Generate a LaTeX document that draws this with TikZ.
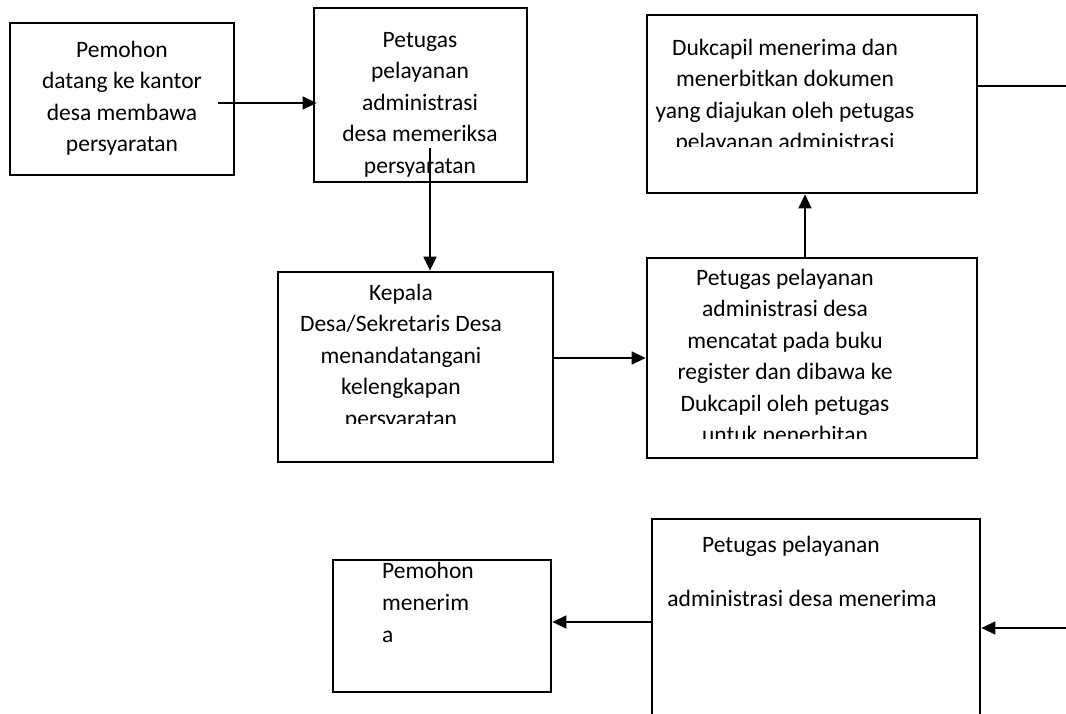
\documentclass[tikz,border=0pt]{standalone}
\usepackage{fontspec}
\setmainfont{Carlito}
\usetikzlibrary{arrows.meta}
\begin{document}
\begin{tikzpicture}[x=1pt,y=-1pt,
  box/.style={draw, line width=2.8pt, inner sep=0pt},
  txt/.style={inner sep=0pt, anchor=north, align=center, font=\fontsize{23.5}{31.5}\selectfont},
  arr/.style={line width=1.5pt, -{Triangle[length=14pt,width=13pt]}},
  ln/.style={line width=1.5pt}]
\clip (0,0) rectangle (1066,714);
\fill[white] (0,0) rectangle (1066,714);
% boxes
\node[box, minimum width=224pt, minimum height=152pt] (b1) at (122,99) {};
\node[box, minimum width=213pt, minimum height=174pt] (b2) at (420.5,95) {};
\node[box, minimum width=275pt, minimum height=190pt] (b3) at (415.5,367) {};
\node[box, minimum width=330pt, minimum height=200pt] (b4) at (812,358) {};
\node[box, minimum width=330pt, minimum height=178pt] (b5) at (812,104) {};
\node[box, minimum width=328pt, minimum height=241pt] (b6) at (816,639.5) {};
\node[box, minimum width=218pt, minimum height=132pt] (b7) at (442,626) {};
% texts
\node[txt] (t1) at (122,35) {\strut Pemohon\\datang ke kantor\\desa membawa\\persyaratan};
\node[txt] (t2) at (420,25) {\strut Petugas\\pelayanan\\administrasi\\desa memeriksa\\persyaratan};
\begin{scope}
\clip (280,274) rectangle (551,423);
\node[txt] (t3) at (401,278) {\strut Kepala\\Desa/Sekretaris Desa\\menandatangani\\kelengkapan\\persyaratan};
\end{scope}
\begin{scope}
\clip (649,260) rectangle (975,438);
\node[txt] (t4) at (785,263) {\strut Petugas pelayanan\\administrasi desa\\mencatat pada buku\\register dan dibawa ke\\Dukcapil oleh petugas\\untuk penerbitan};
\end{scope}
\begin{scope}
\clip (649,17) rectangle (975,147);
\node[txt] (t5) at (785,33) {\strut Dukcapil menerima dan\\menerbitkan dokumen\\yang diajukan oleh petugas\\pelayanan administrasi};
\end{scope}
\node[txt] (t6a) at (791,530) {\strut Petugas pelayanan};
\node[txt] (t6b) at (802,584) {\strut administrasi desa menerima};
\node[txt, anchor=north west, align=left, font=\fontsize{23.5}{32}\selectfont] (t7) at (382,556) {\strut Pemohon\\menerim\\a};
% connectors
\coordinate (p1) at (218,103);
\draw[arr, shorten >=-4pt] (p1) -- (b2.west |- p1);
\coordinate (p2) at (430,148);
\draw[arr] (p2) -- (p2 |- b3.north);
\coordinate (p3) at (600,358);
\draw[arr] (b3.east |- p3) -- (b4.west |- p3);
\coordinate (p4) at (805,220);
\draw[arr] (p4 |- b4.north) -- (p4 |- b5.south);
\coordinate (e5) at (1066,86);
\draw[ln] (b5.east |- e5) -- (e5);
\coordinate (e6) at (1066,628);
\draw[arr] (e6) -- (b6.east |- e6);
\coordinate (p6) at (600,622);
\draw[arr] (b6.west |- p6) -- (b7.east |- p6);
\end{tikzpicture}
\end{document}
